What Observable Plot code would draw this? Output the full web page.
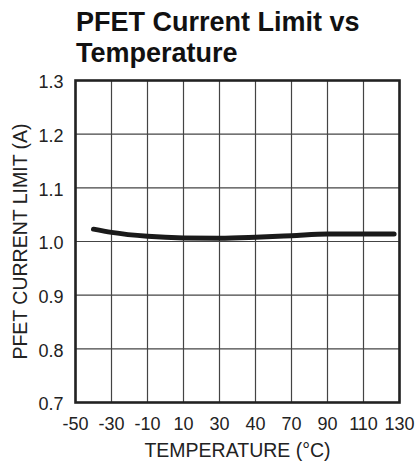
<!DOCTYPE html>
<html>
<head>
<meta charset="utf-8">
<script src="https://cdn.jsdelivr.net/npm/d3@7"></script>
<script src="https://cdn.jsdelivr.net/npm/@observablehq/plot@0.6"></script>
<style>
  html, body { margin: 0; padding: 0; background: #fff; }
  body { width: 415px; height: 462px; overflow: hidden; font-family: "Liberation Sans", Arial, sans-serif; }
  #title { font-weight: bold; font-size: 27px; line-height: 31px; padding: 7px 0 0 76px; height: 62px; color: #111; }
  svg { display: block; overflow: visible; }
</style>
</head>
<body>
<div id="title">PFET Current Limit vs<br>Temperature</div>
<div id="chart"></div>
<script>
// Data
const temperature = [-40, -30, -10, 10, 30, 50, 70, 90, 110, 127];
const currentLimit = [1.023, 1.017, 1.0096, 1.0065, 1.006, 1.0078, 1.0107, 1.0139, 1.0139, 1.0139];

// Axis ticks
const xTickValues = [-50, -30, -10, 10, 30, 50, 70, 90, 110, 130];
const xTickLabels = ["-50", "-30", "-10", "10", "30", "40", "70", "90", "110", "130"];
const yTickValues = [0.7, 0.8, 0.9, 1.0, 1.1, 1.2, 1.3];
const yTickLabels = ["0.7", "0.8", "0.9", "1.0", "1.1", "1.2", "1.3"];

const xLabel = "TEMPERATURE (°C)";
const yLabel = "PFET CURRENT LIMIT (A)";

const data = temperature.map((t, i) => ({t, v: currentLimit[i]}));

const chart = Plot.plot({
  width: 415,
  height: 393,
  marginTop: 11,
  marginBottom: 60,
  marginLeft: 75,
  marginRight: 16,
  style: {fontFamily: "'Liberation Sans', Arial, sans-serif", fontSize: "18px", color: "#222", background: "#fff"},
  x: {domain: [-50, 130]},
  y: {domain: [0.7, 1.3]},
  marks: [
    Plot.gridX(xTickValues, {stroke: "#444", strokeOpacity: 1, strokeWidth: 1.2}),
    Plot.gridY(yTickValues, {stroke: "#444", strokeOpacity: 1, strokeWidth: 1.2}),
    Plot.frame({stroke: "#222", strokeWidth: 2.6}),
    Plot.axisX({ticks: xTickValues, tickSize: 0, tickPadding: 15, label: null,
      tickFormat: (d) => xTickLabels[xTickValues.indexOf(d)], fontSize: 18}),
    Plot.axisX({ticks: [], label: xLabel, labelAnchor: "center", labelArrow: "none",
      labelOffset: 54, fontSize: 19.5}),
    Plot.axisY({ticks: yTickValues, tickSize: 0, tickPadding: 12, dy: 2, label: null,
      tickFormat: (d) => yTickLabels[yTickValues.findIndex(v => Math.abs(v - d) < 1e-9)], fontSize: 18}),
    Plot.axisY({ticks: [], label: yLabel, labelAnchor: "center", labelArrow: "none",
      labelOffset: 62, dy: -6, fontSize: 19.5}),
    Plot.line(data, {x: "t", y: "v", stroke: "#1a1a1a", strokeWidth: 5, curve: "monotone-x"})
  ]
});
document.getElementById("chart").appendChild(chart);
</script>
</body>
</html>
